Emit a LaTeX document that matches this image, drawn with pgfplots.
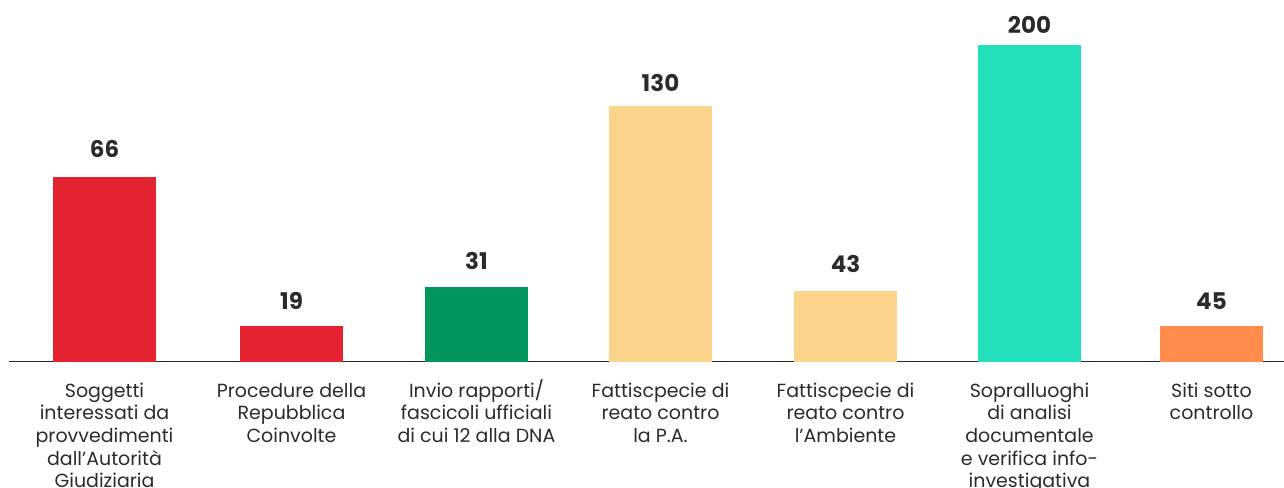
\documentclass[border=0pt]{standalone}
\usepackage{fontspec}
\setmainfont{Poppins}
\usepackage{pgfplots}
\pgfplotsset{compat=1.18}
\definecolor{cred}{HTML}{E3232F}
\definecolor{cgreen}{HTML}{00965E}
\definecolor{cyellow}{HTML}{FDD48C}
\definecolor{cteal}{HTML}{24E0BA}
\definecolor{corange}{HTML}{FF8C4B}
\definecolor{ctext}{HTML}{2B2B2B}
% top aligned label: its baseline is the baseline of the first line
\newcommand{\lab}[1]{\begin{tabular}[t]{@{}c@{}}#1\end{tabular}}

\begin{document}
\begin{tikzpicture}
\path[use as bounding box, clip] (0,0) rectangle (1284bp,488bp);
\begin{axis}[
    at={(9bp,126.3bp)}, anchor=south west,
    scale only axis,
    width=1275bp, height=361.7bp,
    xmin=9, xmax=1284,
    ymin=0, ymax=361.7,
    axis y line=none,
    axis x line=bottom,
    axis line style={-, draw=ctext, line width=1.3bp},
    xtick={104.5,291.5,476.5,660.5,845.5,1029.5,1211.5},
    xticklabels={
        {\lab{Soggetti\\interessati da\\provvedimenti\\dall’Autorità\\Giudiziaria}},
        {\lab{Procedure della\\Repubblica\\Coinvolte}},
        {\lab{Invio rapporti/\\fascicoli ufficiali\\di cui 12 alla DNA}},
        {\lab{Fattiscpecie di\\reato contro\\la P.A.}},
        {\lab{Fattiscpecie di\\reato contro\\l’Ambiente}},
        {\lab{Sopralluoghi\\di analisi\\documentale\\e verifica info-\\investigativa}},
        {\lab{Siti sotto\\controllo}}},
    major tick length=0pt,
    x tick label style={font=\fontsize{19bp}{22.7bp}\selectfont, text=ctext,
        anchor=base, yshift=-35.3bp},
    nodes near coords,
    point meta=explicit symbolic,
    nodes near coords style={font=\fontsize{23bp}{25bp}\selectfont\bfseries,
        text=ctext, anchor=base},
    every axis plot/.append style={ybar, bar width=103bp, draw=none},
]
% bar heights as drawn in the picture, labels are the printed values
\addplot[fill=cred, every node near coord/.append style={yshift=19bp}]
    coordinates {(104.5,184.7) [66]};
\addplot[fill=cred, every node near coord/.append style={yshift=16bp}]
    coordinates {(291.5,35.7) [19]};
\addplot[fill=cgreen, every node near coord/.append style={yshift=17bp}]
    coordinates {(476.5,75) [31]};
\addplot[fill=cyellow, every node near coord/.append style={yshift=14bp}]
    coordinates {(660.5,255.7) [130]};
\addplot[fill=cyellow, every node near coord/.append style={yshift=18bp}]
    coordinates {(845.5,70.7) [43]};
\addplot[fill=cteal, every node near coord/.append style={yshift=11bp}]
    coordinates {(1029.5,316.7) [200]};
\addplot[fill=corange, every node near coord/.append style={yshift=16bp}]
    coordinates {(1211.5,35.7) [45]};
\end{axis}
\end{tikzpicture}
\end{document}
